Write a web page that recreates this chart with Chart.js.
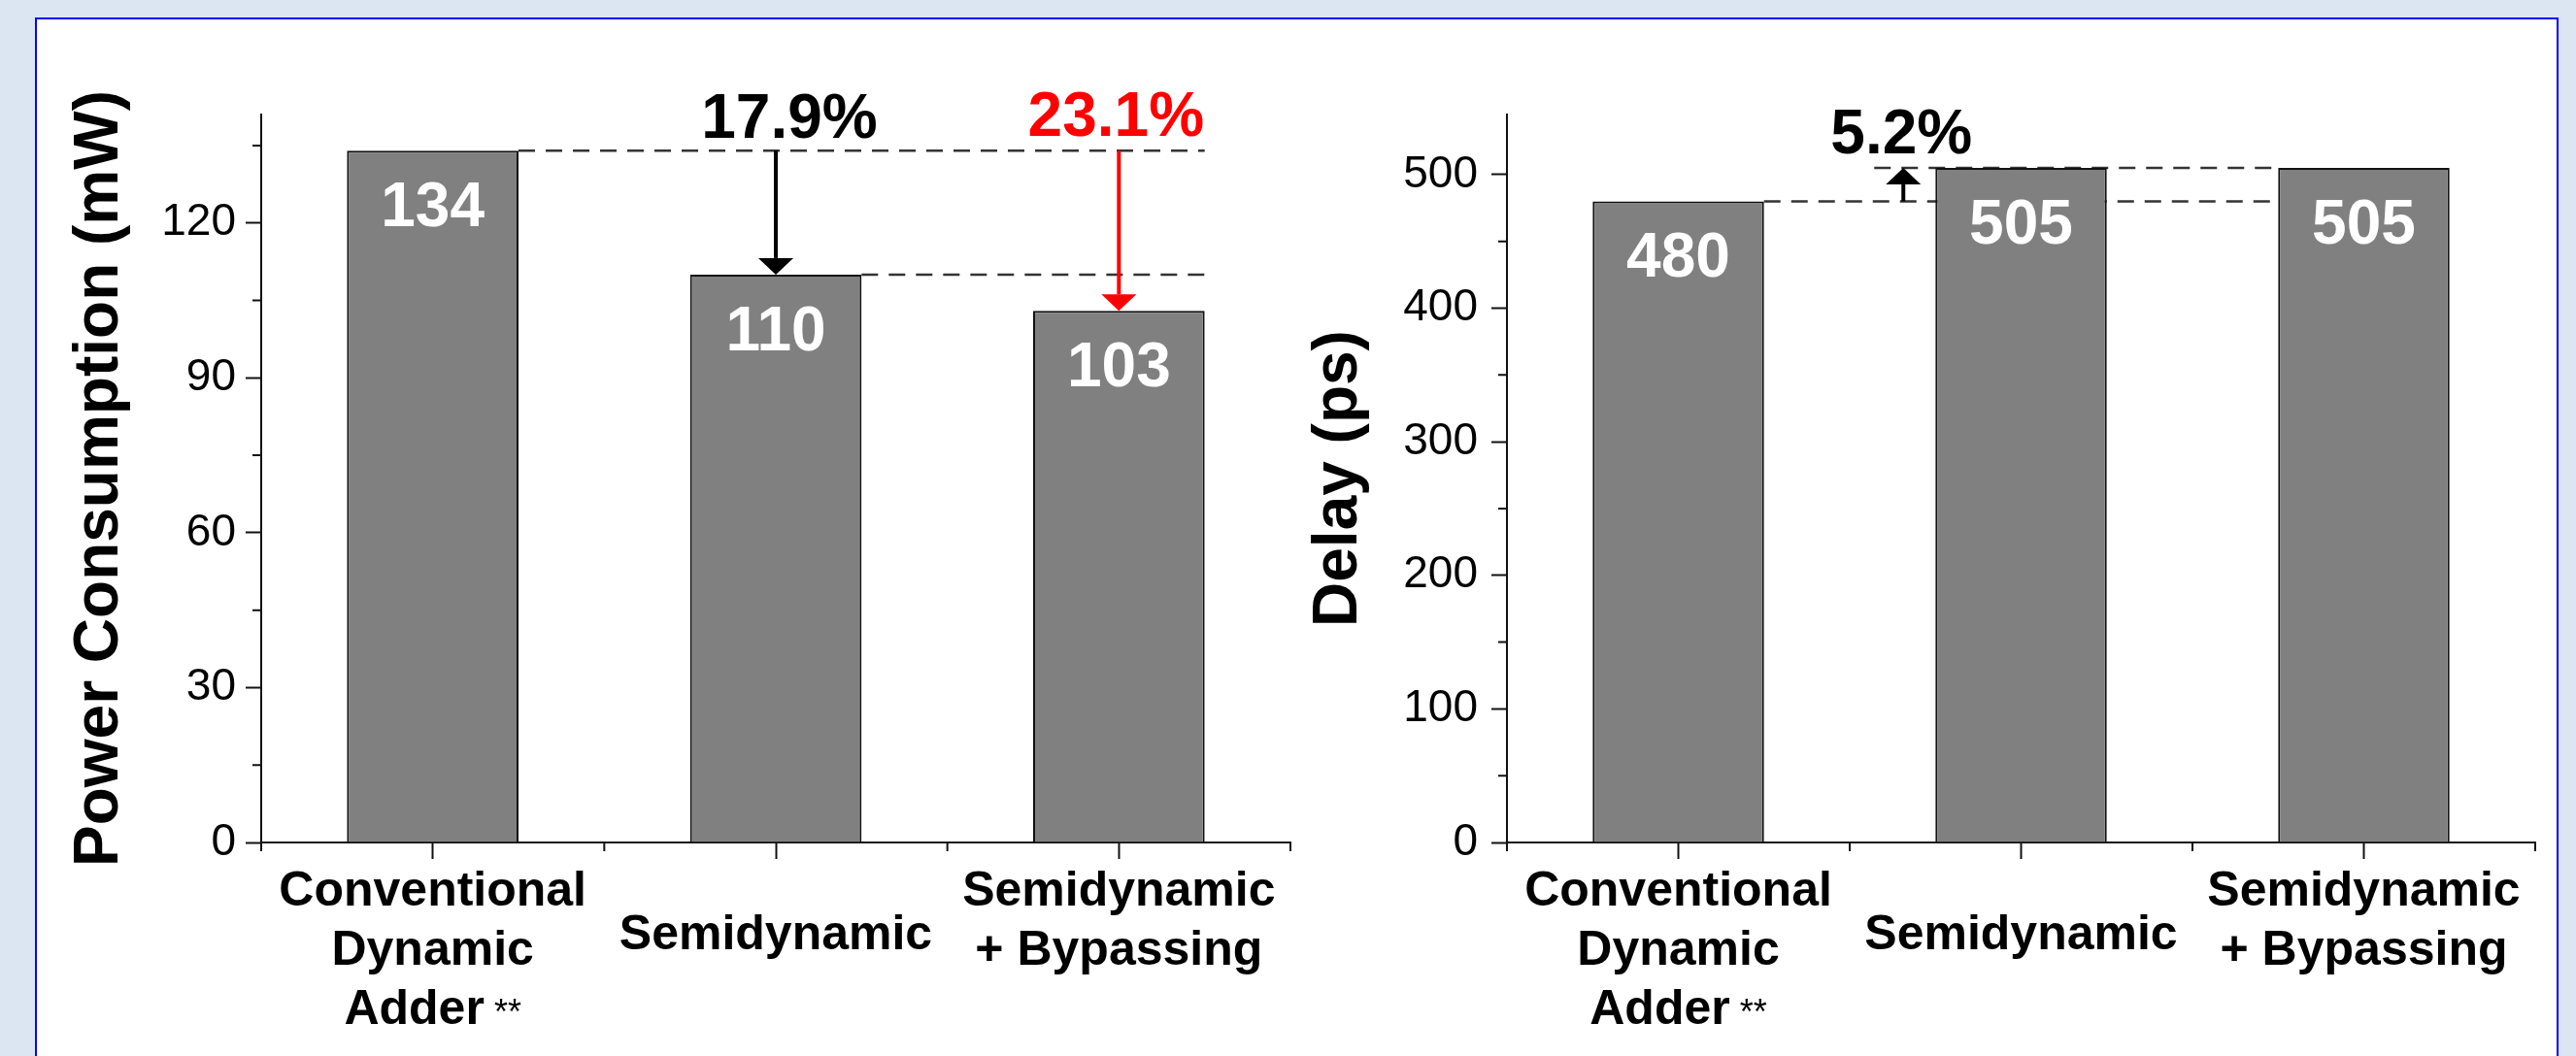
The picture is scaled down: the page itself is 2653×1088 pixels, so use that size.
<!DOCTYPE html>
<html>
<head>
<meta charset="utf-8">
<title>Power and delay comparison</title>
<script src="https://cdn.jsdelivr.net/npm/chart.js@4"></script>
<style>
  body { margin: 0; background: #dce6f2; width: 2653px; height: 1088px; overflow: hidden; position: relative; }
  #panel { position: absolute; left: 36px; top: 18px; width: 2599px; height: 1100px; background: #fff; border: 2px solid #0000ff; box-sizing: border-box; }
  canvas { position: absolute; top: 0; }
  #powerChart { left: 0; }
  #delayChart { left: 1340px; }
</style>
</head>
<body>
<div id="panel"></div>
<canvas id="powerChart" width="1340" height="1088"></canvas>
<canvas id="delayChart" width="1313" height="1088"></canvas>
<script>
'use strict';

// chart data
const categories = [['Conventional', 'Dynamic', 'Adder **'], ['Semidynamic'], ['Semidynamic', '+ Bypassing']];
const powerValues = [134, 110, 103];
const delayValues = [480, 505, 505];
const powerTicks = [0, 30, 60, 90, 120];
const delayTicks = [0, 100, 200, 300, 400, 500];
const powerMax = 141;
const delayMax = 545;
const powerSavings = ['17.9%', '23.1%'];
const delayIncrease = '5.2%';

const FONT = "Arial, 'Liberation Sans', Helvetica, sans-serif";
Chart.defaults.font.family = FONT;
Chart.defaults.color = '#000';

const barOf = (chart, i) => chart.getDatasetMeta(0).data[i];

const dashedLine = function (ctx, x0, x1, y) {
  ctx.save();
  ctx.strokeStyle = '#333';
  ctx.lineWidth = 2.5;
  ctx.setLineDash([17, 11]);
  ctx.beginPath();
  ctx.moveTo(x0, y);
  ctx.lineTo(x1, y);
  ctx.stroke();
  ctx.restore();
}

const arrow = function (ctx, x, yFrom, yTip, color) {
  const dir = yTip > yFrom ? 1 : -1;
  const headH = 17, headW = 36;
  ctx.save();
  ctx.strokeStyle = color;
  ctx.fillStyle = color;
  ctx.lineWidth = 4;
  ctx.beginPath();
  ctx.moveTo(x, yFrom);
  ctx.lineTo(x, yTip - dir * headH);
  ctx.stroke();
  ctx.beginPath();
  ctx.moveTo(x, yTip);
  ctx.lineTo(x - headW / 2, yTip - dir * headH);
  ctx.lineTo(x + headW / 2, yTip - dir * headH);
  ctx.closePath();
  ctx.fill();
  ctx.restore();
}

const boldText = function (ctx, text, x, y, color) {
  ctx.save();
  ctx.font = 'bold 64px ' + FONT;
  ctx.fillStyle = color;
  ctx.textAlign = 'center';
  ctx.textBaseline = 'alphabetic';
  ctx.fillText(text, x, y);
  ctx.restore();
}

// minor y ticks, category boundary ticks, value labels and category labels
const axisExtras = {
  id: 'axisExtras',
  afterDraw(chart, args, opts) {
    const { ctx, chartArea } = chart;
    const x = chart.scales.x, y = chart.scales.y;
    ctx.save();
    ctx.strokeStyle = '#111';
    ctx.lineWidth = 2;
    ctx.beginPath();
    y.ticks.forEach(t => {
      if (!opts.major.includes(t.value)) {
        const py = y.getPixelForValue(t.value);
        ctx.moveTo(chartArea.left - 9, py);
        ctx.lineTo(chartArea.left, py);
      }
    });
    for (let i = 0; i <= categories.length; i++) {
      const px = x.getPixelForValue(i - 0.5);
      ctx.moveTo(px, chartArea.bottom);
      ctx.lineTo(px, chartArea.bottom + 9);
    }
    ctx.stroke();
    ctx.restore();

    // values inside bars
    chart.data.datasets[0].data.forEach((v, i) => {
      const bar = barOf(chart, i);
      boldText(ctx, String(v), bar.x, bar.y + 78, '#fff');
    });

    // category labels
    ctx.save();
    ctx.fillStyle = '#000';
    ctx.textBaseline = 'alphabetic';
    ctx.textAlign = 'left';
    categories.forEach((lines, i) => {
      const cx = x.getPixelForValue(i);
      const first = lines.length === 1 ? 110 : 65;
      lines.forEach((line, j) => {
        const by = chartArea.bottom + first + j * 61;
        const m = line.match(/^(.*?)(\s*\*+)$/);
        const main = m ? m[1] : line;
        const stars = m ? ' **' : '';
        ctx.font = 'bold 50px ' + FONT;
        const wMain = ctx.measureText(main).width;
        ctx.font = '36px ' + FONT;
        const wStars = stars ? ctx.measureText(stars).width : 0;
        const x0 = cx - (wMain + wStars) / 2;
        ctx.font = 'bold 50px ' + FONT;
        ctx.fillText(main, x0, by);
        if (stars) {
          ctx.font = '36px ' + FONT;
          ctx.fillText(stars, x0 + wMain, by);
        }
      });
    });
    ctx.restore();
  }
};

const powerNotes = {
  id: 'powerNotes',
  beforeDatasetsDraw(chart) {
    const ctx = chart.ctx, y = chart.scales.y;
    const b0 = barOf(chart, 0), b1 = barOf(chart, 1), b2 = barOf(chart, 2);
    dashedLine(ctx, b0.x + b0.width / 2, b2.x + b2.width / 2, y.getPixelForValue(powerValues[0]));
    dashedLine(ctx, b1.x + b1.width / 2, b2.x + b2.width / 2, y.getPixelForValue(powerValues[1]));
  },
  afterDatasetsDraw(chart) {
    const ctx = chart.ctx, y = chart.scales.y;
    const b1 = barOf(chart, 1), b2 = barOf(chart, 2);
    const top = y.getPixelForValue(powerValues[0]);
    arrow(ctx, b1.x, top, b1.y, '#000');
    arrow(ctx, b2.x, top, b2.y, '#ff0000');
    boldText(ctx, powerSavings[0], b1.x + 14, top - 13, '#000');
    boldText(ctx, powerSavings[1], b2.x - 3, top - 15, '#ff0000');
  }
};

const delayNotes = {
  id: 'delayNotes',
  beforeDatasetsDraw(chart) {
    const ctx = chart.ctx, y = chart.scales.y;
    const b0 = barOf(chart, 0), b1 = barOf(chart, 1), b2 = barOf(chart, 2);
    const left1 = b1.x - b1.width / 2, left2 = b2.x - b2.width / 2;
    dashedLine(ctx, b0.x + b0.width / 2, left2, y.getPixelForValue(delayValues[0]));
    dashedLine(ctx, left1 - 63, left2, y.getPixelForValue(delayValues[1]));
  },
  afterDatasetsDraw(chart) {
    const ctx = chart.ctx, y = chart.scales.y;
    const b1 = barOf(chart, 1);
    const left1 = b1.x - b1.width / 2;
    const low = y.getPixelForValue(delayValues[0]);
    const high = y.getPixelForValue(delayValues[1]);
    arrow(ctx, left1 - 33, low, high, '#000');
    boldText(ctx, delayIncrease, left1 - 35, high - 15, '#000');
  }
};

const makeChart = function (canvasId, values, max, step, majors, title, pad, yWidth, labelPad) {
  return new Chart(document.getElementById(canvasId), {
    type: 'bar',
    data: {
      labels: categories,
      datasets: [{
        data: values,
        backgroundColor: '#808080',
        borderColor: '#111',
        borderWidth: 2,
        barPercentage: 0.5,
        categoryPercentage: 1
      }]
    },
    options: {
      responsive: false,
      animation: false,
      layout: { padding: pad },
      plugins: {
        legend: { display: false },
        tooltip: { enabled: false },
        axisExtras: { major: majors }
      },
      scales: {
        x: {
          offset: true,
          afterFit: s => { s.height = 220; },
          grid: { offset: false, drawOnChartArea: false, tickLength: 17, tickWidth: 2, tickColor: '#111' },
          border: { color: '#111', width: 2 },
          ticks: { display: false }
        },
        y: {
          min: 0,
          max: max,
          afterFit: s => { s.width = yWidth; },
          ticks: {
            stepSize: step,
            includeBounds: false,
            autoSkip: false,
            padding: labelPad,
            color: '#000',
            font: { size: 46 },
            callback: v => majors.includes(v) ? String(v) : ''
          },
          grid: {
            drawOnChartArea: false,
            tickLength: 16,
            tickWidth: 2,
            tickColor: c => majors.includes(c.tick.value) ? '#111' : 'rgba(0,0,0,0)'
          },
          border: { color: '#111', width: 2 },
          title: {
            display: true,
            text: title,
            color: '#000',
            font: { size: 64, weight: 'bold' },
            padding: { top: title.length > 12 ? 65 : 1, bottom: 0 }
          }
        }
      }
    },
    plugins: [axisExtras, canvasId === 'powerChart' ? powerNotes : delayNotes]
  });
}

makeChart('powerChart', powerValues, powerMax, 15, powerTicks, 'Power Consumption (mW)',
  { left: 0, top: 118, right: 11, bottom: 0 }, 269, 10);
makeChart('delayChart', delayValues, delayMax, 50, delayTicks, 'Delay (ps)',
  { left: 0, top: 118, right: 42, bottom: 0 }, 212, 14);
</script>
</body>
</html>
